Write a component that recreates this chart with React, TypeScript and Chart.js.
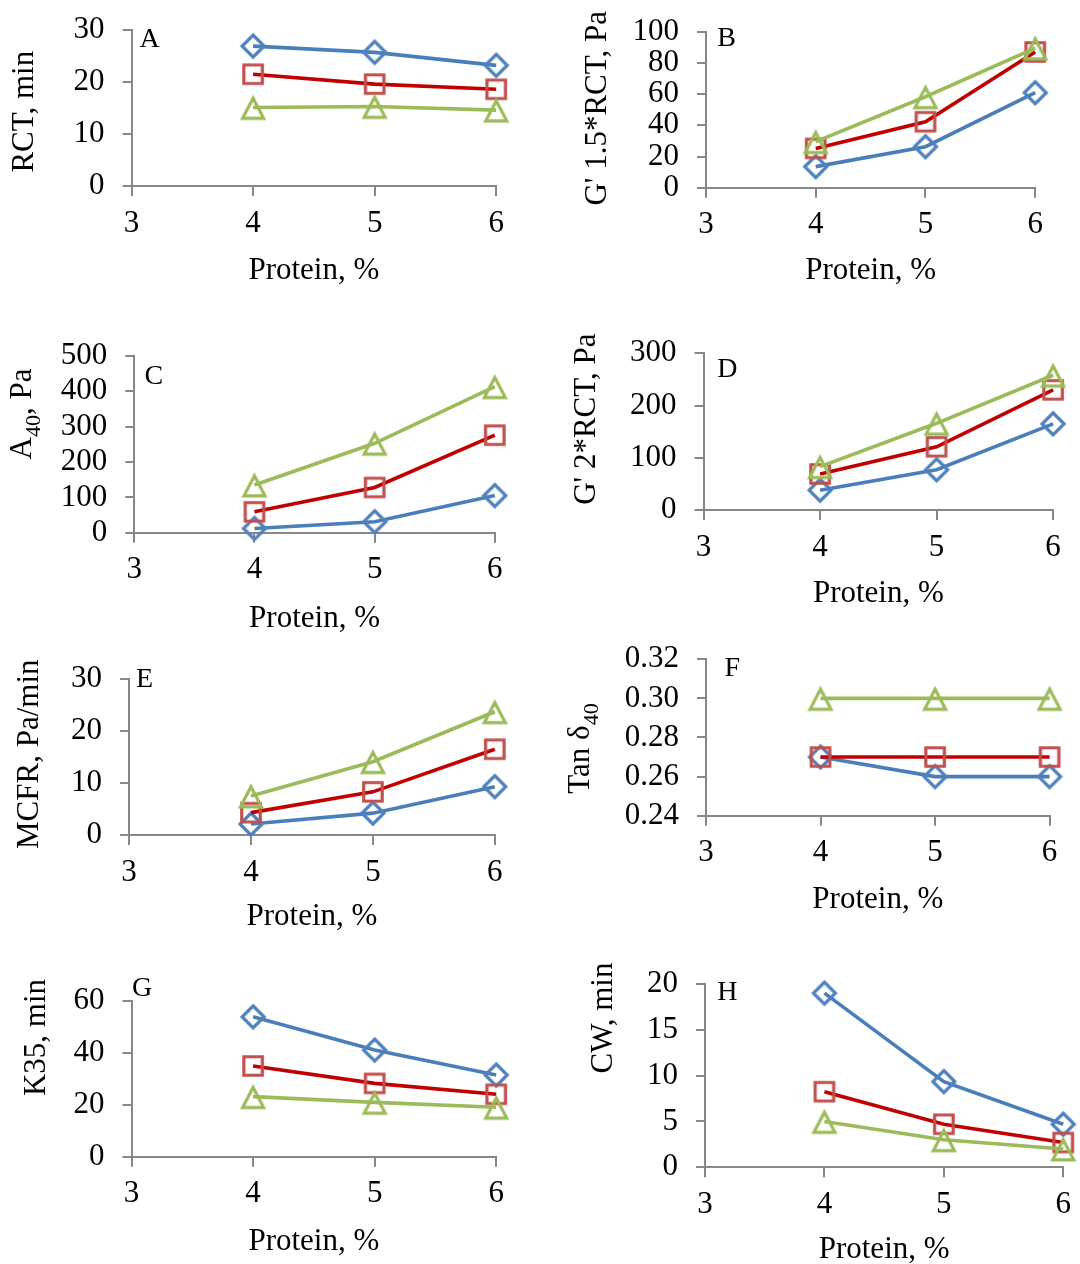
import React, { useEffect, useRef } from 'react';
import { Chart, registerables } from 'chart.js';

Chart.register(...registerables);

// ---------------- data ----------------
const PROTEIN = [4, 5, 6];
const X_TICKS = [3, 4, 5, 6];
const X_TITLE = 'Protein, %';

// A – RCT, min
const RCT_S1 = [26.9, 25.7, 23.2];
const RCT_S2 = [21.5, 19.6, 18.6];
const RCT_S3 = [15.1, 15.3, 14.6];
const RCT_TICKS = [0, 10, 20, 30];

// B – G' 1.5*RCT, Pa
const G15_S1 = [13.5, 26.3, 60.9];
const G15_S2 = [25.2, 42.3, 87.0];
const G15_S3 = [29.5, 58.3, 89.5];
const G15_TICKS = [0, 20, 40, 60, 80, 100];

// C – A40, Pa
const A40_S1 = [12, 31, 105];
const A40_S2 = [59, 128, 276];
const A40_S3 = [135, 253, 413];
const A40_TICKS = [0, 100, 200, 300, 400, 500];

// D – G' 2*RCT, Pa
const G2_S1 = [38, 77, 165];
const G2_S2 = [69, 121, 230];
const G2_S3 = [83, 166, 258];
const G2_TICKS = [0, 100, 200, 300];

// E – MCFR, Pa/min
const MCFR_S1 = [2.1, 4.2, 9.3];
const MCFR_S2 = [4.3, 8.3, 16.5];
const MCFR_S3 = [7.5, 14.1, 23.7];
const MCFR_TICKS = [0, 10, 20, 30];

// F – Tan δ40
const TAN_S1 = [0.27, 0.26, 0.26];
const TAN_S2 = [0.27, 0.27, 0.27];
const TAN_S3 = [0.3, 0.3, 0.3];
const TAN_TICKS = [0.24, 0.26, 0.28, 0.3, 0.32];

// G – K35, min
const K35_S1 = [53.8, 41.0, 31.4];
const K35_S2 = [34.9, 28.2, 24.0];
const K35_S3 = [23.1, 20.9, 19.0];
const K35_TICKS = [0, 20, 40, 60];

// H – CW, min
const CW_S1 = [19.0, 9.35, 4.7];
const CW_S2 = [8.25, 4.7, 2.7];
const CW_S3 = [5.0, 3.0, 2.0];
const CW_TICKS = [0, 5, 10, 15, 20];

// ---------------- styling ----------------
const SERIF = '"Liberation Serif", "Times New Roman", serif';
const TICK_SIZE = 31;
const TITLE_SIZE = 31;
const SUB_SIZE = 22;
const SUB_SHIFT = 12;
const LETTER_SIZE = 28;
const AXIS_COLOR = '#878787';
const LINE_COLORS = ['#4A7EBB', '#C00000', '#9BBB59'];
const MARKER_COLORS = ['#4F81BD', '#C0504D', '#9BBB59'];
const MARKER_KINDS = ['diamond', 'square', 'triangle'];

type Seg = { t: string; sub?: boolean };
type PanelDef = {
  letter: string;
  title: Seg[];
  ticks: number[];
  decimals: number;
  series: number[][];
  col: number;
  plot: { l: number; r: number; t: number; b: number };
  titlePos: { x: number; y: number };
  letterPos: { x: number; y: number };
  xTitleOff: number;
};

const PANELS: PanelDef[] = [
  { letter: 'A', title: [{ t: 'RCT, min' }], ticks: RCT_TICKS, decimals: 0, series: [RCT_S1, RCT_S2, RCT_S3], col: 0,
    plot: { l: 131.5, r: 496.2, t: 30, b: 186 }, titlePos: { x: 24.5, y: 111.7 }, letterPos: { x: 139.5, y: 47 }, xTitleOff: 85 },
  { letter: 'B', title: [{ t: "G' 1.5*RCT, Pa" }], ticks: G15_TICKS, decimals: 0, series: [G15_S1, G15_S2, G15_S3], col: 540,
    plot: { l: 706, r: 1035.2, t: 31.7, b: 187.7 }, titlePos: { x: 597.7, y: 108.3 }, letterPos: { x: 717.3, y: 45.5 }, xTitleOff: 83.5 },
  { letter: 'C', title: [{ t: 'A' }, { t: '40', sub: true }, { t: ', Pa' }], ticks: A40_TICKS, decimals: 0, series: [A40_S1, A40_S2, A40_S3], col: 0,
    plot: { l: 134.3, r: 494.8, t: 356, b: 532.7 }, titlePos: { x: 22.5, y: 414 }, letterPos: { x: 144.6, y: 384 }, xTitleOff: 86 },
  { letter: 'D', title: [{ t: "G' 2*RCT, Pa" }], ticks: G2_TICKS, decimals: 0, series: [G2_S1, G2_S2, G2_S3], col: 540,
    plot: { l: 703.6, r: 1053.1, t: 353.3, b: 510 }, titlePos: { x: 586.5, y: 419.2 }, letterPos: { x: 717.3, y: 377 }, xTitleOff: 83.7 },
  { letter: 'E', title: [{ t: 'MCFR, Pa/min' }], ticks: MCFR_TICKS, decimals: 0, series: [MCFR_S1, MCFR_S2, MCFR_S3], col: 0,
    plot: { l: 129.1, r: 494.8, t: 679, b: 835 }, titlePos: { x: 30.1, y: 754.2 }, letterPos: { x: 136, y: 687 }, xTitleOff: 82 },
  { letter: 'F', title: [{ t: 'Tan δ' }, { t: '40', sub: true }], ticks: TAN_TICKS, decimals: 2, series: [TAN_S1, TAN_S2, TAN_S3], col: 540,
    plot: { l: 706, r: 1049.6, t: 659.3, b: 815.7 }, titlePos: { x: 580.5, y: 748.5 }, letterPos: { x: 724.5, y: 676 }, xTitleOff: 84.6 },
  { letter: 'G', title: [{ t: 'K35, min' }], ticks: K35_TICKS, decimals: 0, series: [K35_S1, K35_S2, K35_S3], col: 0,
    plot: { l: 131.5, r: 496.2, t: 1000.7, b: 1156.7 }, titlePos: { x: 37, y: 1037.5 }, letterPos: { x: 131.9, y: 995.5 }, xTitleOff: 85.3 },
  { letter: 'H', title: [{ t: 'CW, min' }], ticks: CW_TICKS, decimals: 0, series: [CW_S1, CW_S2, CW_S3], col: 540,
    plot: { l: 705, r: 1070, t: 984, b: 1167.3 }, titlePos: { x: 603.5, y: 1018 }, letterPos: { x: 717.3, y: 1000 }, xTitleOff: 83 },
];

// ---------------- markers ----------------
function makeMarker(kind: string, color: string): HTMLCanvasElement {
  const s = 34;
  const c = document.createElement('canvas');
  c.width = s;
  c.height = s;
  const g = c.getContext('2d')!;
  g.strokeStyle = color;
  g.lineWidth = 3.2;
  g.lineJoin = 'miter';
  const m = s / 2;
  g.beginPath();
  if (kind === 'diamond') {
    const r = 11;
    g.moveTo(m, m - r);
    g.lineTo(m + r, m);
    g.lineTo(m, m + r);
    g.lineTo(m - r, m);
    g.closePath();
  } else if (kind === 'square') {
    const h = 9.25;
    g.rect(m - h, m - h, 2 * h, 2 * h);
  } else {
    const w = 10.5;
    const h = 10;
    const dy = 0.8;
    g.moveTo(m, m - h + dy);
    g.lineTo(m + w, m + h + dy);
    g.lineTo(m - w, m + h + dy);
    g.closePath();
  }
  g.stroke();
  return c;
}

function geometry(p: PanelDef) {
  const left = p.col;
  const top = Math.floor(p.plot.t) - 45;
  const w = 540;
  const h = Math.ceil(p.plot.b) + 125 - top;
  const padTop = p.plot.t - top;
  const padRight = left + w - p.plot.r;
  const yW = p.plot.l - left;
  const xH = h - (p.plot.b - top);
  return { left, top, w, h, padTop, padRight, yW, xH };
}

function buildConfig(p: PanelDef): any {
  const g = geometry(p);
  const markers = MARKER_KINDS.map((k, i) => makeMarker(k, MARKER_COLORS[i]));
  const titleLH = TITLE_SIZE * 1.2;
  const tickFont = { family: SERIF, size: TICK_SIZE };
  const titleFont = { family: SERIF, size: TITLE_SIZE };

  const decor = {
    id: 'decor',
    afterDraw(chart: any) {
      const ctx = chart.ctx as CanvasRenderingContext2D;
      ctx.save();
      ctx.fillStyle = '#000';
      ctx.font = `${LETTER_SIZE}px ${SERIF}`;
      ctx.textAlign = 'left';
      ctx.textBaseline = 'alphabetic';
      ctx.fillText(p.letter, p.letterPos.x - g.left, p.letterPos.y - g.top);

      ctx.translate(p.titlePos.x - g.left, p.titlePos.y - g.top);
      ctx.rotate(-Math.PI / 2);
      ctx.textBaseline = 'middle';
      const fontOf = (s: Seg) => `${s.sub ? SUB_SIZE : TITLE_SIZE}px ${SERIF}`;
      let total = 0;
      const widths = p.title.map((s) => {
        ctx.font = fontOf(s);
        const wd = ctx.measureText(s.t).width;
        total += wd;
        return wd;
      });
      let x = -total / 2;
      p.title.forEach((s, i) => {
        ctx.font = fontOf(s);
        ctx.fillText(s.t, x, s.sub ? SUB_SHIFT : 0);
        x += widths[i];
      });
      ctx.restore();
    },
  };

  return {
    type: 'line',
    data: {
      datasets: p.series.map((vals, i) => ({
        data: PROTEIN.map((x, j) => ({ x, y: vals[j] })),
        borderColor: LINE_COLORS[i],
        backgroundColor: 'transparent',
        borderWidth: 3.6,
        pointStyle: markers[i],
        pointRadius: 6,
        pointHoverRadius: 6,
        pointBorderWidth: 0,
        clip: false,
        order: 2 - i,
        tension: 0,
        fill: false,
      })),
    },
    options: {
      animation: false,
      responsive: false,
      events: [],
      layout: { padding: { left: 0, top: g.padTop, right: g.padRight, bottom: 0 } },
      plugins: { legend: { display: false }, tooltip: { enabled: false } },
      scales: {
        x: {
          type: 'linear',
          min: X_TICKS[0],
          max: X_TICKS[X_TICKS.length - 1],
          afterBuildTicks: (s: any) => {
            s.ticks = X_TICKS.map((v) => ({ value: v }));
          },
          afterFit: (s: any) => {
            s.height = g.xH;
          },
          ticks: { font: tickFont, color: '#000', padding: 9, maxRotation: 0, autoSkip: false, callback: (v: any) => String(v) },
          grid: { display: true, drawOnChartArea: false, drawTicks: true, tickLength: 10, color: AXIS_COLOR, lineWidth: 2 },
          border: { display: true, color: AXIS_COLOR, width: 2 },
          title: {
            display: true,
            text: X_TITLE,
            font: titleFont,
            color: '#000',
            padding: { top: 0, bottom: g.xH - p.xTitleOff - titleLH / 2 },
          },
        },
        y: {
          type: 'linear',
          min: p.ticks[0],
          max: p.ticks[p.ticks.length - 1],
          afterBuildTicks: (s: any) => {
            s.ticks = p.ticks.map((v) => ({ value: v }));
          },
          afterFit: (s: any) => {
            s.width = g.yW;
          },
          ticks: { font: tickFont, color: '#000', padding: 18, autoSkip: false, callback: (v: any) => Number(v).toFixed(p.decimals) },
          grid: { display: true, drawOnChartArea: false, drawTicks: true, tickLength: 9, color: AXIS_COLOR, lineWidth: 2 },
          border: { display: true, color: AXIS_COLOR, width: 2 },
          title: { display: false },
        },
      },
    },
    plugins: [decor],
  };
}

function Panel({ p }: { p: PanelDef }) {
  const ref = useRef<HTMLCanvasElement>(null);
  const g = geometry(p);
  useEffect(() => {
    if (!ref.current) return;
    const chart = new Chart(ref.current, buildConfig(p));
    return () => chart.destroy();
  }, []);
  return (
    <canvas
      ref={ref}
      width={g.w}
      height={g.h}
      style={{ position: 'absolute', left: g.left, top: g.top, width: g.w, height: g.h }}
    />
  );
}

export default function App() {
  return (
    <div
      style={{
        position: 'absolute',
        left: 0,
        top: 0,
        width: 1080,
        height: 1264,
        overflow: 'hidden',
        background: '#fff',
      }}
    >
      {PANELS.map((p) => (
        <Panel key={p.letter} p={p} />
      ))}
    </div>
  );
}
